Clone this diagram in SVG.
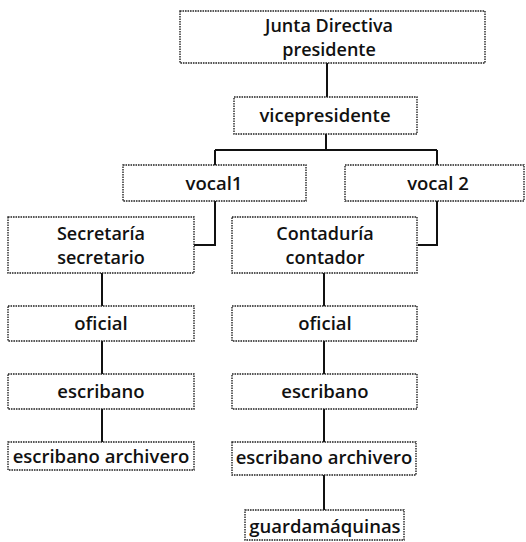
<svg xmlns="http://www.w3.org/2000/svg" width="526" height="542" viewBox="0 0 526 542">
<style>
.box{fill:#fff;stroke:#222;stroke-width:1.4;stroke-dasharray:1.6 0.9}
.t{font-family:"Open Sans","Noto Sans","DejaVu Sans",sans-serif;font-size:18.5px;font-weight:600;fill:#111;text-anchor:middle}
.t2{font-size:18px}
.c{fill:none;stroke:#111;stroke-width:2}
</style>
<rect width="526" height="542" fill="#fff"/>
<g id="connectors">
<path class="c" d="M327 63V97"/>
<path class="c" d="M326 134V150M215 150H437M215 150V165M437 150V165"/>
<path class="c" d="M215 201V245H194"/>
<path class="c" d="M437 201V245H418"/>
<path class="c" d="M102 273V306M102 341V374M102 409V442"/>
<path class="c" d="M324 273V306M324 341V374M324 409V442M324 475V510"/>
</g>
<g id="junta"><rect class="box" x="180" y="11" width="305" height="52"/><text class="t t2" x="329" y="32">Junta Directiva</text><text class="t t2" x="329" y="56">presidente</text></g>
<g id="vicepresidente"><rect class="box" x="234" y="97" width="183" height="37"/><text class="t" x="325" y="122">vicepresidente</text></g>
<g id="vocal1"><rect class="box" x="123" y="165" width="183" height="36"/><text class="t" x="214" y="190">vocal1</text></g>
<g id="vocal2"><rect class="box" x="345" y="165" width="179" height="36"/><text class="t" x="438" y="190">vocal 2</text></g>
<g id="secretaria"><rect class="box" x="8" y="217" width="186" height="56"/><text class="t t2" x="101" y="240">Secretaría</text><text class="t t2" x="101" y="264">secretario</text></g>
<g id="contaduria"><rect class="box" x="232" y="217" width="185" height="56"/><text class="t t2" x="325" y="240">Contaduría</text><text class="t t2" x="325" y="264">contador</text></g>
<g id="oficial1"><rect class="box" x="8" y="306" width="186" height="35"/><text class="t" x="101" y="330">oficial</text></g>
<g id="oficial2"><rect class="box" x="232" y="306" width="185" height="35"/><text class="t" x="325" y="330">oficial</text></g>
<g id="escribano1"><rect class="box" x="8" y="374" width="186" height="35"/><text class="t" x="101" y="398">escribano</text></g>
<g id="escribano2"><rect class="box" x="232" y="374" width="185" height="35"/><text class="t" x="325" y="398">escribano</text></g>
<g id="archivero1"><rect class="box" x="8" y="442" width="186" height="28"/><text class="t" x="101" y="463">escribano archivero</text></g>
<g id="archivero2"><rect class="box" x="232" y="442" width="184" height="33"/><text class="t" x="324" y="464">escribano archivero</text></g>
<g id="guardamaquinas"><rect class="box" x="245" y="510" width="159" height="30"/><text class="t" x="325" y="533">guardamáquinas</text></g>
</svg>
